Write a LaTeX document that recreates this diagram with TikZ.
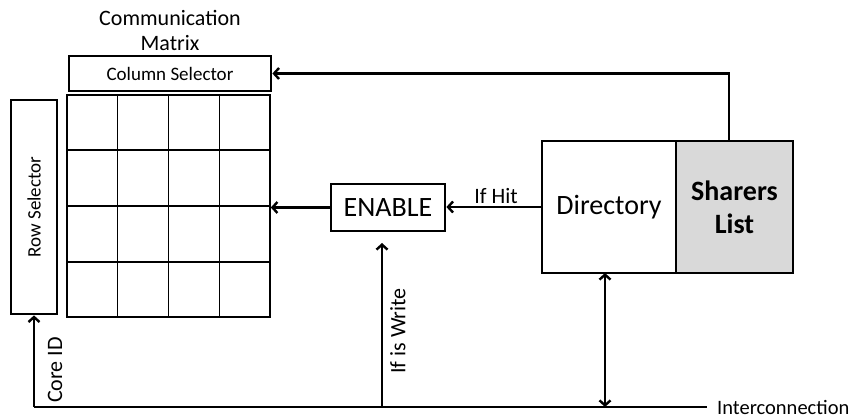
\documentclass[tikz,border=0pt]{standalone}
\usepackage{fontspec}
\setmainfont{Carlito}
\usetikzlibrary{arrows.meta,calc}
\begin{document}
\begin{tikzpicture}[x=1pt,y=-1pt,
  lbl/.style={font=\fontsize{22}{25}\selectfont, inner sep=0pt},
  sel/.style={font=\fontsize{19}{22}\selectfont, inner sep=0pt},
  big/.style={font=\fontsize{28}{33}\selectfont, inner sep=0pt},
  bigbox/.style={draw, line width=2.8pt, inner sep=0pt},
  thinbox/.style={draw, line width=1.6pt, inner sep=0pt},
  wire/.style={line width=2.8pt},
  tip/.style={-{Straight Barb[length=5pt,width=11pt,line width=2.4pt]}},
  bitip/.style={{Straight Barb[length=5pt,width=11pt,line width=2.4pt]}-{Straight Barb[length=5pt,width=11pt,line width=2.4pt]}}
]
\useasboundingbox (0,0) rectangle (861,419);

% title
\node[lbl, align=center] (title) at (170,30) {Communication\\Matrix};

% selectors
\node[bigbox, minimum width=202pt, minimum height=35pt, sel] (colsel) at (170,73.5) {Column Selector};
\node[bigbox, minimum width=46pt, minimum height=214pt] (rowsel) at (34,207) {};
\node[sel, rotate=90] (rowlbl) at (rowsel.center) {Row Selector};

% 4x4 communication matrix
\node[thinbox, minimum width=203pt, minimum height=222pt] (grid) at (168.5,206) {};
\foreach \i in {1,2,3} {
  \draw[line width=1.6pt] ($(grid.north west)!\i/4!(grid.north east)$) -- ($(grid.south west)!\i/4!(grid.south east)$);
  \draw[line width=1.6pt] ($(grid.north west)!\i/4!(grid.south west)$) -- ($(grid.north east)!\i/4!(grid.south east)$);
}

% enable gate
\node[bigbox, minimum width=114pt, minimum height=47pt, big] (enable) at (388,207.5) {ENABLE};

% directory with sharers list
\node[thinbox, minimum width=134pt, minimum height=132pt, big] (dir) at (609,207) {Directory};
\node[thinbox, fill=black!15, minimum width=117pt, minimum height=132pt, big, font=\fontsize{28}{33}\selectfont\bfseries, align=center] (sharers) at (734.5,207) {Sharers\\List};

% interconnection bus
\coordinate (busL) at (34,407);
\coordinate (busR) at (707,407);
\draw[wire] (busL) -- (busR);
\node[lbl, font=\fontsize{20.5}{24}\selectfont, anchor=west] (icn) at (717,407) {Interconnection};

% connectors
\draw[wire, tip] (busL) -- (rowsel.south);
\node[lbl, rotate=90] (coreid) at (55,370) {Core ID};

\coordinate (wbase) at (382,407);
\coordinate (wtop) at (382,243);
\draw[wire, tip] (wbase) -- (wtop);
\node[lbl, rotate=90] (iswrite) at (398,331) {If is Write};

\draw[wire, tip] (enable.west) -- (enable.west -| grid.east);
\draw[wire, tip] (dir.west) -- (dir.west -| enable.east);
\node[lbl] (ifhit) at (496,196) {If Hit};

\coordinate (shtop) at (729,141);
\coordinate (corner) at (729,73.5);
\draw[wire, tip] (shtop) -- (corner) -- (colsel.east);

\coordinate (dbot) at (605,273);
\coordinate (dbus) at (605,407);
\draw[wire, bitip] (dbot) -- (dbus);
\end{tikzpicture}
\end{document}
